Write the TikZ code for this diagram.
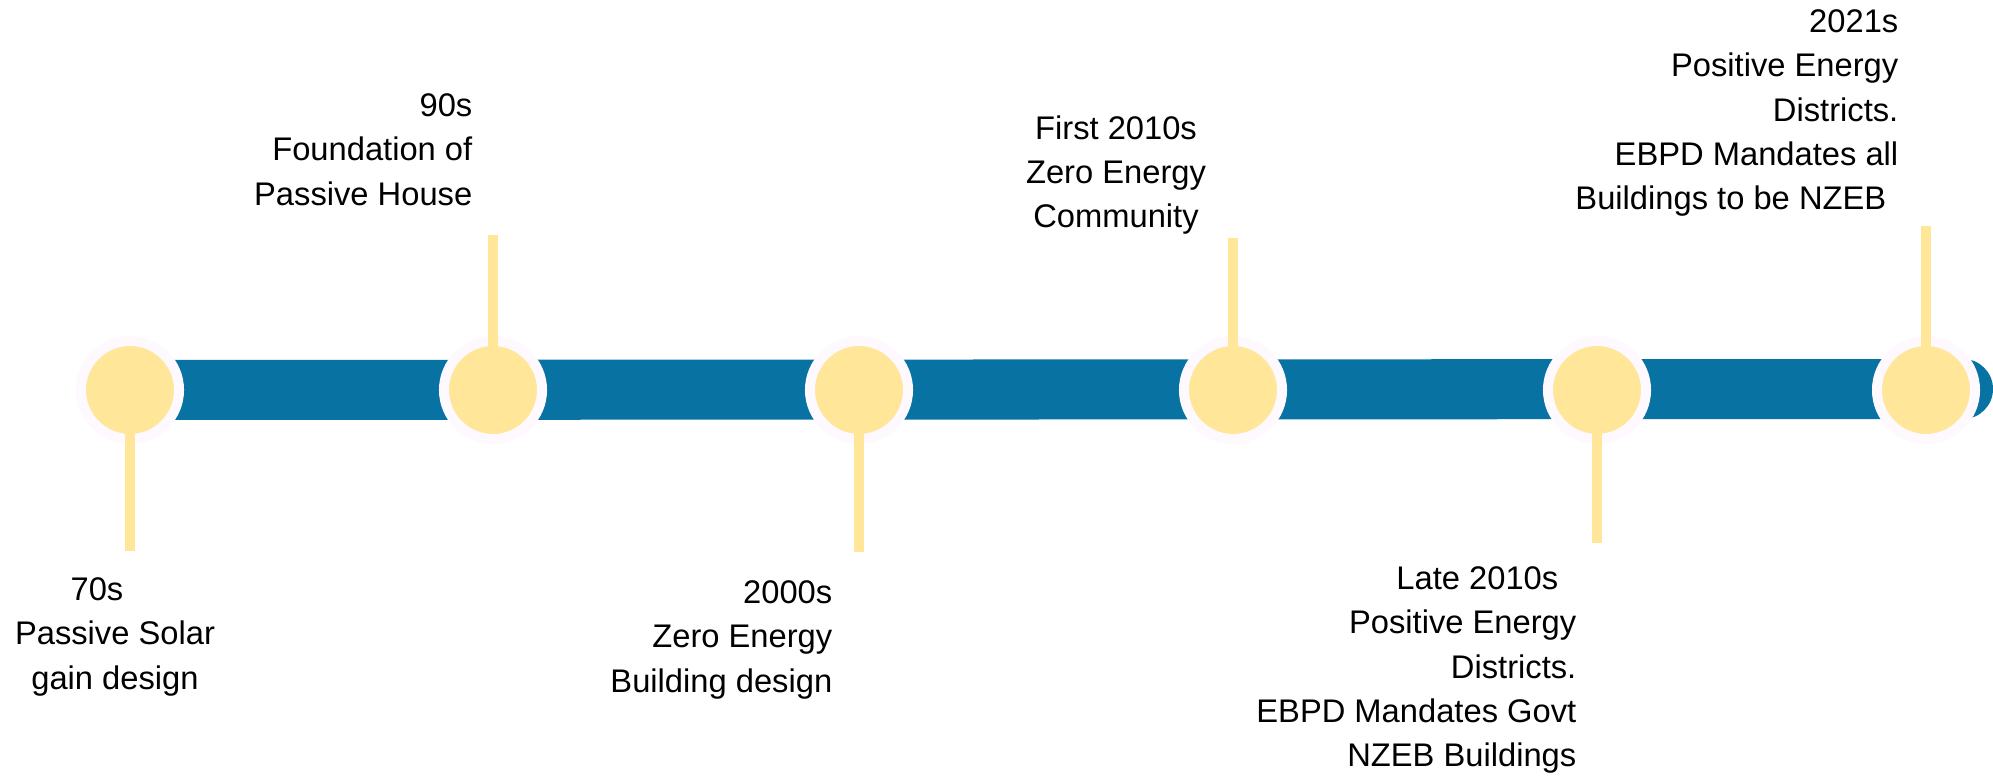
\documentclass[tikz,border=0pt]{standalone}
\usepackage{fontspec}
\setmainfont{Liberation Sans}
\usetikzlibrary{positioning}
\usetikzlibrary{backgrounds}
\definecolor{barblue}{RGB}{8,115,163}
\definecolor{dotyellow}{RGB}{255,230,153}
\definecolor{ringwhite}{RGB}{253,249,255}
\tikzset{
	milestone/.style={draw=ringwhite, circle, line width=0.1cm, inner sep=0pt, minimum size=0.98cm, fill=dotyellow},
	stem/.style={draw=dotyellow, line width=0.1cm},
	% text blocks next to the stems
	event/.style={inner sep=0pt, font=\fontsize{9.3}{12.6}\selectfont},
}

\begin{document}
\begin{tikzpicture}[x=0.01cm, y=0.01cm]
	\useasboundingbox (0,0) rectangle (1993,777);
	
	\node (m70) [milestone] at (130,387) {};
	\node (m90) [milestone] at (493,387) {};
	\node (m2000) [milestone] at (859,387) {};
	\node (mfirst) [milestone] at (1233,387) {};
	\node (mlate) [milestone] at (1597,387) {};
	\node (m2021) [milestone] at (1926,387) {};
	\coordinate (barend) at (1963,388);
	
	\coordinate (e70) at (130,226);
	\coordinate (e90) at (493,542);
	\coordinate (e2000) at (859,225);
	\coordinate (efirst) at (1233,539);
	\coordinate (elate) at (1597,234);
	\coordinate (e2021) at (1926,551);
	
	\node (t70) [event, anchor=north, align=center] at (115,200) {70s\hspace*{0.36cm}\\Passive Solar\\gain design};
	\node (t90) [event, anchor=north east, align=right] at (473,684) {90s\\Foundation of\hspace*{0.12cm}\\Passive House};
	\node (t2000) [event, anchor=north east, align=right] at (833,197) {2000s\\Zero Energy\\Building design};
	\node (tfirst) [event, anchor=north, align=center] at (1116,662) {First 2010s\\Zero Energy\\Community};
	\node (tlate) [event, anchor=north east, align=right] at (1577,211) {Late 2010s\hspace*{0.18cm}\\Positive Energy\hspace*{0.08cm}\\Districts.\\EBPD Mandates Govt\hspace*{0.11cm}\\NZEB Buildings};
	\node (t2021) [event, anchor=north east, align=right] at (1899,768) {2021s\\Positive Energy\hspace*{0.05cm}\\Districts.\\EBPD Mandates all\hspace*{0.16cm}\\Buildings to be NZEB\hspace*{0.12cm}};
	
	\begin{scope}[on background layer]
		\draw [barblue, line width=0.6cm, line cap=round] (m70.center) -- (barend);
	\end{scope}
	
	\begin{scope}[stem]
		\draw (m70.center) -- (e70);
		\draw (m90.center) -- (e90);
		\draw (m2000.center) -- (e2000);
		\draw (mfirst.center) -- (efirst);
		\draw (mlate.center) -- (elate);
		\draw (m2021.center) -- (e2021);
	\end{scope}
	
\end{tikzpicture}
\end{document}
